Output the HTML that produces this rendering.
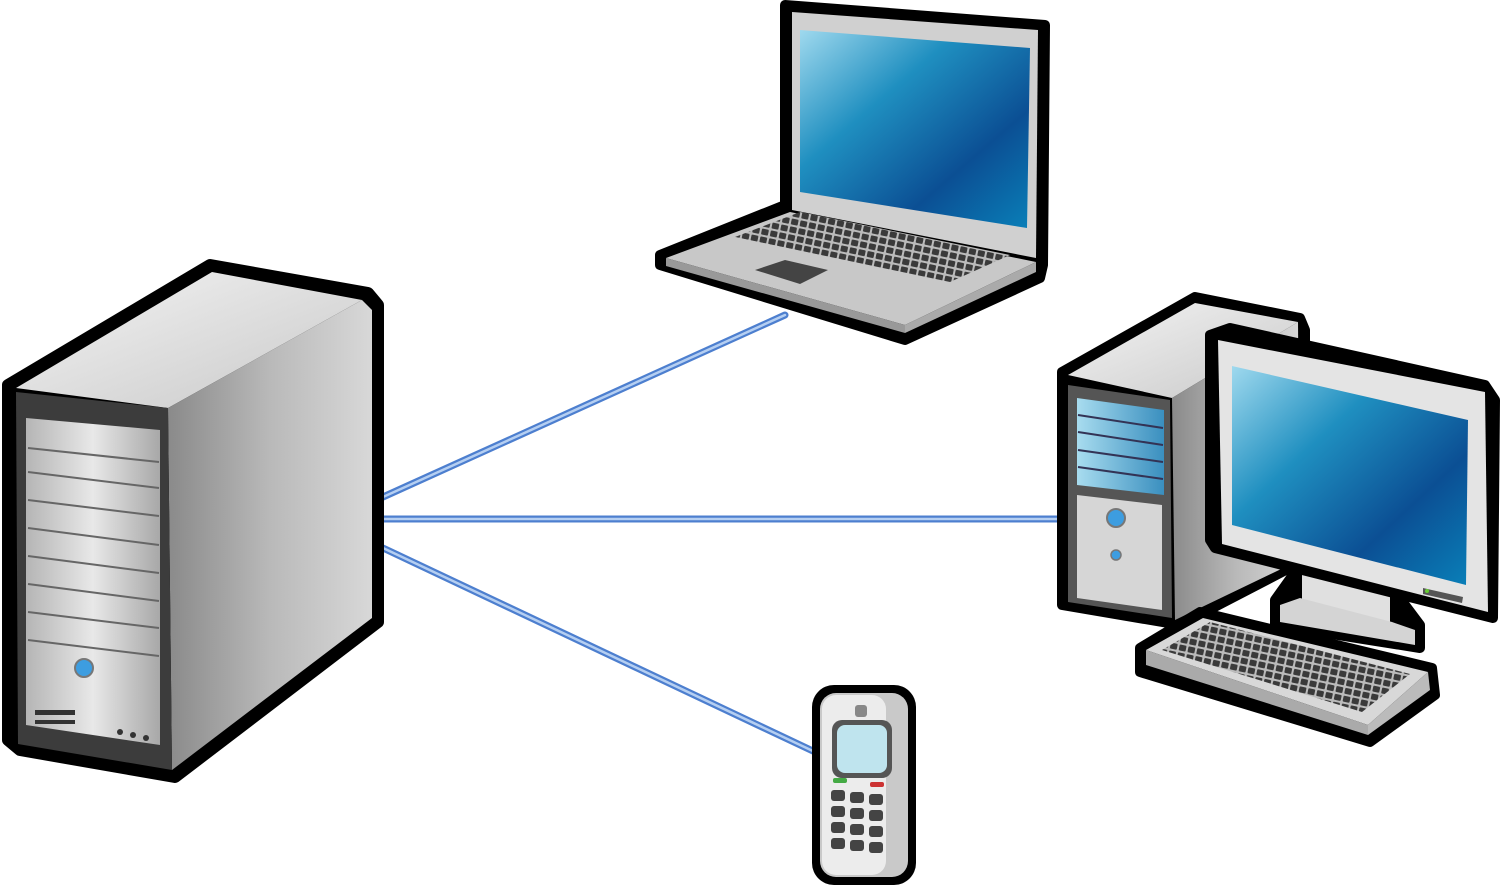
<!DOCTYPE html>
<html><head><meta charset="utf-8"><style>html,body{margin:0;padding:0;background:#fff}svg{display:block}</style></head>
<body>
<svg width="1500" height="891" viewBox="0 0 1500 891" xmlns="http://www.w3.org/2000/svg">
<defs>
<linearGradient id="scr" x1="0" y1="0" x2="1" y2="1">
<stop offset="0" stop-color="#9fd9ee"/><stop offset="0.35" stop-color="#1f8fc0"/><stop offset="0.7" stop-color="#0b4f94"/><stop offset="1" stop-color="#0a7fb8"/></linearGradient>
<linearGradient id="side" x1="0" y1="0" x2="1" y2="0"><stop offset="0" stop-color="#8a8a8a"/><stop offset="0.5" stop-color="#b9b9b9"/><stop offset="1" stop-color="#d8d8d8"/></linearGradient>
<linearGradient id="top" x1="0" y1="0" x2="1" y2="1"><stop offset="0" stop-color="#f4f4f4"/><stop offset="1" stop-color="#c8c8c8"/></linearGradient>
<linearGradient id="front" x1="0" y1="0" x2="1" y2="0"><stop offset="0" stop-color="#b5b5b5"/><stop offset="0.5" stop-color="#e8e8e8"/><stop offset="1" stop-color="#a8a8a8"/></linearGradient>
<linearGradient id="vent" x1="0" y1="0" x2="1" y2="0"><stop offset="0" stop-color="#a8dcef"/><stop offset="1" stop-color="#3a8fbf"/></linearGradient>
<pattern id="keys" width="9" height="8" patternUnits="userSpaceOnUse" patternTransform="rotate(12)"><rect width="9" height="8" fill="#bbb"/><rect x="1" y="1" width="7" height="6" rx="1" fill="#3a3a3a"/></pattern>
</defs>
<g stroke-linecap="round">
<line x1="383" y1="497" x2="785" y2="315" stroke="#4d7fcf" stroke-width="7"/>
<line x1="383" y1="497" x2="785" y2="315" stroke="#b5cff2" stroke-width="2.5"/>
<line x1="383" y1="519" x2="1065" y2="519" stroke="#4d7fcf" stroke-width="7"/>
<line x1="383" y1="519" x2="1065" y2="519" stroke="#b5cff2" stroke-width="2.5"/>
<line x1="383" y1="548" x2="815" y2="752" stroke="#4d7fcf" stroke-width="7"/>
<line x1="383" y1="548" x2="815" y2="752" stroke="#b5cff2" stroke-width="2.5"/>
</g>
<!-- server -->
<g stroke-linejoin="round">
<path d="M8 385 L210 265 L368 293 L378 305 L378 622 L175 777 L20 750 L8 740 Z" fill="#000" stroke="#000" stroke-width="12"/>
<path d="M16 388 L212 272 L362 300 L168 408 Z" fill="url(#top)"/>
<path d="M168 408 L362 300 L372 310 L372 618 L172 770 Z" fill="url(#side)"/>
<path d="M16 392 L168 408 L172 770 L18 744 Z" fill="#3c3c3c"/>
<path d="M26 418 L160 430 L160 745 L26 725 Z" fill="url(#front)"/>
<g stroke="#666" stroke-width="2" fill="none">
<path d="M28 448 L159 462 M28 472 L159 488 M28 500 L159 516 M28 528 L159 545 M28 556 L159 573 M28 584 L159 601 M28 612 L159 628 M28 640 L159 656"/>
</g>
<circle cx="84" cy="668" r="9" fill="#3d9de0" stroke="#777" stroke-width="2"/>
<path d="M35 710 h40 v5 h-40z M35 720 h40 v4 h-40z" fill="#333"/>
<circle cx="120" cy="732" r="3" fill="#333"/><circle cx="133" cy="735" r="3" fill="#333"/><circle cx="146" cy="738" r="3" fill="#333"/>
</g>
<!-- laptop -->
<g stroke-linejoin="round">
<path d="M785 5 L1045 25 L1043 265 L1040 278 L905 340 L660 265 L660 255 L785 205 Z" fill="#000" stroke="#000" stroke-width="10"/>
<path d="M792 12 L1038 30 L1036 258 L792 210 Z" fill="#d0d0d0"/>
<path d="M800 30 L1030 48 L1027 228 L800 192 Z" fill="url(#scr)"/>
<path d="M666 258 L790 212 L1036 262 L905 325 Z" fill="#c8c8c8"/>
<path d="M666 258 L905 325 L905 333 L666 266 Z" fill="#999"/>
<path d="M905 325 L1036 262 L1036 272 L905 333 Z" fill="#aaa"/>
<path d="M735 237 L800 212 L1010 255 L950 282 Z" fill="url(#keys)"/>
<path d="M755 270 L785 260 L828 270 L800 284 Z" fill="#444"/>
</g>
<!-- desktop tower -->
<g stroke-linejoin="round">
<path d="M1062 372 L1195 297 L1300 318 L1305 330 L1305 560 L1180 625 L1062 605 Z" fill="#000" stroke="#000" stroke-width="10"/>
<path d="M1068 375 L1195 303 L1298 322 L1172 398 Z" fill="url(#top)"/>
<path d="M1172 398 L1298 322 L1300 560 L1175 620 Z" fill="url(#side)"/>
<path d="M1068 385 L1170 400 L1172 618 L1068 602 Z" fill="#555"/>
<path d="M1077 398 L1164 410 L1164 495 L1077 485 Z" fill="url(#vent)"/>
<g stroke="#335" stroke-width="2"><path d="M1078 415 L1163 428 M1078 432 L1163 445 M1078 450 L1163 462 M1078 467 L1163 479"/></g>
<path d="M1077 495 L1162 505 L1162 610 L1077 598 Z" fill="#d6d6d6"/>
<circle cx="1116" cy="518" r="9" fill="#3d9de0" stroke="#777" stroke-width="2"/>
<circle cx="1116" cy="555" r="5" fill="#3d9de0" stroke="#777" stroke-width="1.5"/>
</g>
<!-- monitor -->
<g stroke-linejoin="round">
<path d="M1275 600 L1300 565 L1390 585 L1420 625 L1420 648 L1275 625 Z" fill="#000" stroke="#000" stroke-width="10"/>
<path d="M1302 565 L1390 588 L1390 625 L1302 600 Z" fill="#e0e0e0"/>
<path d="M1280 605 L1300 598 L1392 622 L1415 630 L1415 645 L1280 622 Z" fill="#d4d4d4"/>
<path d="M1210 335 L1230 328 L1485 385 L1495 400 L1493 618 L1215 548 L1210 540 Z" fill="#000" stroke="#000" stroke-width="10"/>
<path d="M1218 340 L1485 392 L1488 612 L1222 544 Z" fill="#e4e4e4"/>
<path d="M1232 366 L1468 420 L1466 585 L1232 525 Z" fill="url(#scr)"/>
<path d="M1423 588 L1463 597 L1462 603 L1423 594 Z" fill="#555"/>
<circle cx="1427" cy="591" r="2" fill="#6c3"/>
</g>
<!-- keyboard -->
<g stroke-linejoin="round">
<path d="M1140 648 L1200 612 L1432 668 L1435 695 L1370 742 L1140 672 Z" fill="#000" stroke="#000" stroke-width="10"/>
<path d="M1146 650 L1203 618 L1428 672 L1368 725 Z" fill="#d8d8d8"/>
<path d="M1146 650 L1368 725 L1368 735 L1146 665 Z" fill="#aaa"/>
<path d="M1368 725 L1428 672 L1430 690 L1368 735 Z" fill="#bbb"/>
<path d="M1162 650 L1210 622 L1410 674 L1362 712 Z" fill="url(#keys)"/>
</g>
<!-- phone -->
<g>
<rect x="812" y="685" width="104" height="200" rx="22" fill="#000"/>
<rect x="820" y="693" width="88" height="184" rx="16" fill="#c9c9c9"/>
<rect x="822" y="695" width="64" height="180" rx="14" fill="#ececec"/>
<rect x="832" y="720" width="60" height="58" rx="10" fill="#555"/>
<rect x="837" y="725" width="50" height="48" rx="8" fill="#bfe4ee"/>
<rect x="855" y="705" width="12" height="12" rx="3" fill="#888"/>
<g fill="#444">
<rect x="831" y="790" width="14" height="11" rx="3"/><rect x="850" y="792" width="14" height="11" rx="3"/><rect x="869" y="794" width="14" height="11" rx="3"/>
<rect x="831" y="806" width="14" height="11" rx="3"/><rect x="850" y="808" width="14" height="11" rx="3"/><rect x="869" y="810" width="14" height="11" rx="3"/>
<rect x="831" y="822" width="14" height="11" rx="3"/><rect x="850" y="824" width="14" height="11" rx="3"/><rect x="869" y="826" width="14" height="11" rx="3"/>
<rect x="831" y="838" width="14" height="11" rx="3"/><rect x="850" y="840" width="14" height="11" rx="3"/><rect x="869" y="842" width="14" height="11" rx="3"/>
</g>
<rect x="833" y="778" width="14" height="5" rx="2" fill="#4a4"/><rect x="870" y="782" width="14" height="5" rx="2" fill="#c33"/>
</g>
</svg>
</body></html>
